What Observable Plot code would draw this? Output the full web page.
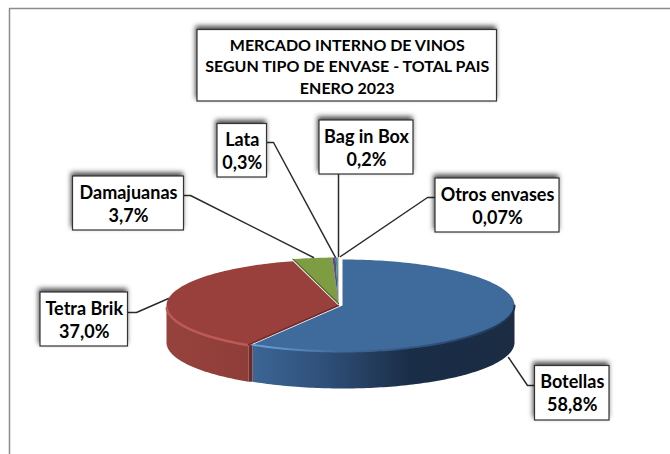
<!DOCTYPE html>
<html><head><meta charset="utf-8">
<script src="https://cdn.jsdelivr.net/npm/d3@7"></script>
<script src="https://cdn.jsdelivr.net/npm/@observablehq/plot@0.6"></script>
<style>html,body{margin:0;padding:0;background:#fff}svg{display:block}</style>
</head><body><div id="chart"></div>
<script>
// Data
const categories = ["Botellas","Tetra Brik","Damajuanas","Lata","Bag in Box","Otros envases"];
const shares = [58.8,37.0,3.7,0.3,0.2,0.07];
const shareLabels = ["58,8%","37,0%","3,7%","0,3%","0,2%","0,07%"];
const titleLines = ["MERCADO INTERNO DE VINOS","SEGUN TIPO DE ENVASE - TOTAL PAIS","ENERO 2023"];
// Styles
const topColors = ["#3f6b9c","#9a403c","#7e9c42","#5f4b82","#3a8ea8","#d9843a"];
// Layout (page pixels)
const cx=339, cy=305, rx=172, ry=46, depth=37;
const total = d3.sum(shares);
const pt=(a,r=1,dx=0,dy=0)=>({x:cx+dx+r*rx*Math.sin(a),y:cy+dy-r*ry*Math.cos(a)});
const arc=(a0,a1,dy=0,dx=0)=>{const n=Math.max(2,Math.ceil(Math.abs(a1-a0)/0.02));return d3.range(n+1).map(i=>pt(a0+(a1-a0)*i/n,1,dx,dy));};
let c=0;
const slices=categories.map((name,i)=>{const a0=c/total*2*Math.PI;c+=shares[i];const a1=c/total*2*Math.PI;return{name,i,a0,a1};});
const offs=[[3,0],[-1,0],[-1,-2],[-1,-2],[-1,-2],[-1,-2]];
const wedge=s=>{const [dx,dy]=offs[s.i];return [{x:cx+dx,y:cy+dy},...arc(s.a0,s.a1,dy,dx),{x:cx+dx,y:cy+dy}];};
const side=(a0,a1,dx)=>[...arc(a0,a1,0,dx),...arc(a1,a0,depth,dx)];
const boxes=[
 {i:0,x1:534.5,x2:609,y1:365.5,y2:420,lx:[508,527,535],ly:[357,385,385]},
 {i:1,x1:40,x2:127.5,y1:292,y2:346,lx:[127,136,168],ly:[312,312,298]},
 {i:2,x1:72.5,x2:183.5,y1:176,y2:230,lx:[183,190,313],ly:[195,195,257]},
 {i:3,x1:217,x2:266.5,y1:123.5,y2:177,lx:[266,273,335],ly:[142,142,257]},
 {i:4,x1:319,x2:413,y1:120,y2:174,lx:[338,338],ly:[174,256]},
 {i:5,x1:435,x2:559,y1:178,y2:232,lx:[435,427,340],ly:[197,197,256]}
];
const title={x1:197,x2:496.5,y1:29.5,y2:101,ys:[45,66,88]};
const leaders=boxes.flatMap(b=>b.lx.map((x,k)=>({x,y:b.ly[k],b:b.i})));
const font={fontFamily:"Lato, Carlito, sans-serif",fontWeight:700};
const shadow="drop-shadow(-1px -3px 2.5px rgba(0,0,0,.7))";
const defs=()=>{const s=d3.create("svg:defs");
 const g=(id,stops)=>{const l=s.append("linearGradient").attr("id",id).attr("gradientUnits","userSpaceOnUse").attr("x1",165).attr("x2",515).attr("y1",0).attr("y2",0);
  stops.forEach(([o,col])=>l.append("stop").attr("offset",o).attr("stop-color",col));};
 g("sideBlue",[[0.24,"#3d6696"],[0.45,"#2f5079"],[0.70,"#1a2d47"],[1,"#1b2c43"]]);
 g("sideRed",[[0,"#96423d"],[0.25,"#8f3d39"]]);
 g("rimBlue",[[0.24,"#6fa3de"],[0.5,"#3f6b9c"],[0.85,"#2a466b"],[1,"#1d3049"]]);
 return s.node();};
const capPt=slices[1].a0;
const edge=(s,a)=>{const [dx,dy]=offs[s.i];return [{x:cx+dx,y:cy+dy},pt(a,1,dx,dy)];};
const cap=[pt(capPt,1,-1,0),pt(capPt,1,3,0),pt(capPt,1,3,depth),pt(capPt,1,-1,depth)];
const chart=Plot.plot({
 width:670,height:454,margin:0,
 x:{domain:[0,670],range:[0,670],axis:null},
 y:{domain:[0,454],range:[0,454],axis:null},
 marks:[
  defs,
  // outer frame
  Plot.line([{x:9,y:454},{x:9,y:8},{x:670,y:8}],{x:"x",y:"y",stroke:"#8c8c8c",strokeWidth:1.5}),
  // leaders behind the pie
  Plot.line(leaders,{x:"x",y:"y",z:"b",stroke:"#2b2b2b",strokeWidth:1.5}),
  // pie walls
  Plot.line(side(Math.PI/2,slices[0].a1,3),{x:"x",y:"y",fill:"url(#sideBlue)",stroke:"none"}),
  Plot.line(side(slices[1].a0,3*Math.PI/2,-1),{x:"x",y:"y",fill:"url(#sideRed)",stroke:"none"}),
  Plot.line(cap,{x:"x",y:"y",fill:"#6e2a28",stroke:"none"}),
  // tops
  ...slices.map(s=>Plot.line(wedge(s),{x:"x",y:"y",fill:topColors[s.i],stroke:"none"})),
  // rims and edges
  Plot.line(arc(Math.PI/2,slices[0].a1,0,3),{x:"x",y:"y",stroke:"url(#rimBlue)",strokeWidth:2}),
  Plot.line(arc(slices[1].a0,3*Math.PI/2-0.05,0.5,-1),{x:"x",y:"y",stroke:"#bd5a55",strokeWidth:2.5}),
  Plot.line(edge(slices[1],slices[1].a0),{x:"x",y:"y",stroke:"#6e2a28",strokeWidth:1.5}),
  Plot.line(edge(slices[2],slices[2].a0),{x:"x",y:"y",stroke:"#4e6628",strokeWidth:1.2}),
  // boxes
  Plot.rect([title,...boxes],{x1:"x1",x2:"x2",y1:"y1",y2:"y2",fill:"#fff",stroke:"#333",strokeWidth:1.2,imageFilter:shadow}),
  Plot.text(titleLines,{x:d=>(title.x1+title.x2)/2,y:(d,i)=>title.ys[i],text:d=>d,fontSize:16,fill:"#000",...font}),
  Plot.text(boxes,{x:b=>(b.x1+b.x2)/2,y:b=>b.y1+16.5,text:b=>categories[b.i],fontSize:18,fill:"#000",...font}),
  Plot.text(boxes,{x:b=>(b.x1+b.x2)/2,y:b=>b.y1+39.5,text:b=>shareLabels[b.i],fontSize:18,fill:"#000",...font})
 ]
});
document.getElementById("chart").append(chart);
</script></body></html>
